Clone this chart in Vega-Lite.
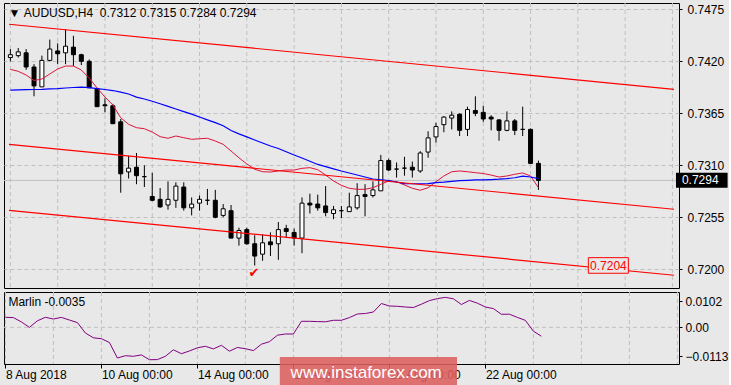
{
  "$schema": "https://vega.github.io/schema/vega-lite/v6.json",
  "background": "#e8e8e8",
  "padding": {"left": 2, "top": 2, "right": 0, "bottom": 0},
  "spacing": 2,
  "config": {
    "view": {"stroke": "#000000", "strokeWidth": 1},
    "font": "Liberation Sans",
    "axis": {"labelFont": "Liberation Sans", "labelFontSize": 12, "labelColor": "#000000", "tickColor": "#000000", "domain": false, "gridColor": "#c0c0c0", "gridDash": [4, 3], "gridOpacity": 1}
  },
  "datasets": {
    "bars": [
      {"i":0,"o":0.7424,"h":0.7433,"l":0.7420,"c":0.7427,"r":0.74115,"b":0.73896,"m":0.00392},
      {"i":1,"o":0.7426,"h":0.7434,"l":0.7424,"c":0.7430,"r":0.74094,"b":0.73899,"m":0.00380},
      {"i":2,"o":0.7429,"h":0.7433,"l":0.7411,"c":0.7414,"r":0.74055,"b":0.73900,"m":0.00212},
      {"i":3,"o":0.7414,"h":0.7417,"l":0.7383,"c":0.7394,"r":0.73997,"b":0.73902,"m":-0.00004},
      {"i":4,"o":0.7393,"h":0.7426,"l":0.7393,"c":0.7421,"r":0.74013,"b":0.73904,"m":0.00255},
      {"i":5,"o":0.7421,"h":0.7443,"l":0.7420,"c":0.7433,"r":0.74066,"b":0.73908,"m":0.00392},
      {"i":6,"o":0.7431,"h":0.7439,"l":0.7417,"c":0.7428,"r":0.74119,"b":0.73912,"m":0.00325},
      {"i":7,"o":0.7429,"h":0.7454,"l":0.7417,"c":0.7436,"r":0.74150,"b":0.73918,"m":0.00388},
      {"i":8,"o":0.7435,"h":0.7447,"l":0.7415,"c":0.7427,"r":0.74150,"b":0.73923,"m":0.00286},
      {"i":9,"o":0.7427,"h":0.7428,"l":0.7416,"c":0.7420,"r":0.74108,"b":0.73927,"m":0.00184},
      {"i":10,"o":0.7420,"h":0.7422,"l":0.7392,"c":0.7392,"r":0.74023,"b":0.73921,"m":-0.00224},
      {"i":11,"o":0.7391,"h":0.7392,"l":0.7372,"c":0.7372,"r":0.73918,"b":0.73912,"m":-0.00412},
      {"i":12,"o":0.7374,"h":0.7381,"l":0.7366,"c":0.7373,"r":0.73822,"b":0.73902,"m":-0.00447},
      {"i":13,"o":0.7373,"h":0.7375,"l":0.7354,"c":0.7354,"r":0.73738,"b":0.73891,"m":-0.00596},
      {"i":14,"o":0.7356,"h":0.7359,"l":0.7281,"c":0.7301,"r":0.73603,"b":0.73875,"m":-0.01204},
      {"i":15,"o":0.7303,"h":0.7320,"l":0.7296,"c":0.7307,"r":0.73534,"b":0.73854,"m":-0.01114},
      {"i":16,"o":0.7308,"h":0.7323,"l":0.7290,"c":0.7299,"r":0.73498,"b":0.73822,"m":-0.01137},
      {"i":17,"o":0.7298,"h":0.7310,"l":0.7287,"c":0.7298,"r":0.73487,"b":0.73801,"m":-0.01082},
      {"i":18,"o":0.7277,"h":0.7302,"l":0.7272,"c":0.7273,"r":0.73452,"b":0.73778,"m":-0.01271},
      {"i":19,"o":0.7274,"h":0.7286,"l":0.7265,"c":0.7266,"r":0.73403,"b":0.73751,"m":-0.01267},
      {"i":20,"o":0.7268,"h":0.7293,"l":0.7263,"c":0.7274,"r":0.73386,"b":0.73723,"m":-0.01137},
      {"i":21,"o":0.7273,"h":0.7292,"l":0.7265,"c":0.7288,"r":0.73410,"b":0.73696,"m":-0.00882},
      {"i":22,"o":0.7287,"h":0.7292,"l":0.7262,"c":0.7265,"r":0.73392,"b":0.73668,"m":-0.01035},
      {"i":23,"o":0.7265,"h":0.7276,"l":0.7257,"c":0.7269,"r":0.73375,"b":0.73641,"m":-0.00929},
      {"i":24,"o":0.7270,"h":0.7278,"l":0.7262,"c":0.7274,"r":0.73381,"b":0.73611,"m":-0.00804},
      {"i":25,"o":0.7273,"h":0.7285,"l":0.7268,"c":0.7273,"r":0.73386,"b":0.73581,"m":-0.00745},
      {"i":26,"o":0.7273,"h":0.7284,"l":0.7254,"c":0.7255,"r":0.73357,"b":0.73552,"m":-0.00847},
      {"i":27,"o":0.7257,"h":0.7269,"l":0.7255,"c":0.7264,"r":0.73322,"b":0.73518,"m":-0.00706},
      {"i":28,"o":0.7262,"h":0.7268,"l":0.7233,"c":0.7233,"r":0.73251,"b":0.73468,"m":-0.00937},
      {"i":29,"o":0.7233,"h":0.7244,"l":0.7225,"c":0.7241,"r":0.73180,"b":0.73433,"m":-0.00792},
      {"i":30,"o":0.7242,"h":0.7244,"l":0.7226,"c":0.7227,"r":0.73114,"b":0.73401,"m":-0.00839},
      {"i":31,"o":0.7227,"h":0.7236,"l":0.7204,"c":0.7214,"r":0.73058,"b":0.73368,"m":-0.00914},
      {"i":32,"o":0.7216,"h":0.7237,"l":0.7209,"c":0.7228,"r":0.73032,"b":0.73336,"m":-0.00663},
      {"i":33,"o":0.7229,"h":0.7239,"l":0.7214,"c":0.7226,"r":0.73029,"b":0.73304,"m":-0.00565},
      {"i":34,"o":0.7227,"h":0.7250,"l":0.7210,"c":0.7242,"r":0.73040,"b":0.73278,"m":-0.00310},
      {"i":35,"o":0.7243,"h":0.7247,"l":0.7233,"c":0.7240,"r":0.73050,"b":0.73243,"m":-0.00263},
      {"i":36,"o":0.7239,"h":0.7243,"l":0.7225,"c":0.7233,"r":0.73050,"b":0.73209,"m":-0.00263},
      {"i":37,"o":0.7233,"h":0.7276,"l":0.7217,"c":0.7270,"r":0.73068,"b":0.73177,"m":0.00235},
      {"i":38,"o":0.7270,"h":0.7280,"l":0.7259,"c":0.7268,"r":0.73075,"b":0.73143,"m":0.00235},
      {"i":39,"o":0.7269,"h":0.7279,"l":0.7262,"c":0.7265,"r":0.73053,"b":0.73109,"m":0.00224},
      {"i":40,"o":0.7267,"h":0.7288,"l":0.7256,"c":0.7260,"r":0.72997,"b":0.73086,"m":0.00216},
      {"i":41,"o":0.7259,"h":0.7267,"l":0.7253,"c":0.7263,"r":0.72934,"b":0.73063,"m":0.00275},
      {"i":42,"o":0.7262,"h":0.7267,"l":0.7254,"c":0.7262,"r":0.72888,"b":0.73040,"m":0.00275},
      {"i":43,"o":0.7261,"h":0.7281,"l":0.7261,"c":0.7266,"r":0.72857,"b":0.73019,"m":0.00380},
      {"i":44,"o":0.7265,"h":0.7291,"l":0.7263,"c":0.7278,"r":0.72846,"b":0.72997,"m":0.00522},
      {"i":45,"o":0.7279,"h":0.7290,"l":0.7256,"c":0.7277,"r":0.72846,"b":0.72976,"m":0.00541},
      {"i":46,"o":0.7278,"h":0.7293,"l":0.7276,"c":0.7284,"r":0.72863,"b":0.72955,"m":0.00600},
      {"i":47,"o":0.7283,"h":0.7321,"l":0.7283,"c":0.7315,"r":0.72899,"b":0.72947,"m":0.00933},
      {"i":48,"o":0.7315,"h":0.7317,"l":0.7304,"c":0.7305,"r":0.72934,"b":0.72939,"m":0.00835},
      {"i":49,"o":0.7306,"h":0.7313,"l":0.7297,"c":0.7306,"r":0.72927,"b":0.72923,"m":0.00824},
      {"i":50,"o":0.7307,"h":0.7319,"l":0.7299,"c":0.7307,"r":0.72892,"b":0.72907,"m":0.00796},
      {"i":51,"o":0.7308,"h":0.7314,"l":0.7297,"c":0.7305,"r":0.72857,"b":0.72905,"m":0.00776},
      {"i":52,"o":0.7304,"h":0.7325,"l":0.7302,"c":0.7323,"r":0.72836,"b":0.72905,"m":0.00906},
      {"i":53,"o":0.7324,"h":0.7346,"l":0.7318,"c":0.7339,"r":0.72863,"b":0.72907,"m":0.01047},
      {"i":54,"o":0.7340,"h":0.7355,"l":0.7334,"c":0.7351,"r":0.72927,"b":0.72917,"m":0.01125},
      {"i":55,"o":0.7353,"h":0.7362,"l":0.7345,"c":0.7361,"r":0.72987,"b":0.72923,"m":0.01173},
      {"i":56,"o":0.7360,"h":0.7367,"l":0.7348,"c":0.7363,"r":0.73032,"b":0.72931,"m":0.01118},
      {"i":57,"o":0.7364,"h":0.7365,"l":0.7341,"c":0.7347,"r":0.73040,"b":0.72937,"m":0.00894},
      {"i":58,"o":0.7348,"h":0.7372,"l":0.7341,"c":0.7369,"r":0.73032,"b":0.72941,"m":0.01055},
      {"i":59,"o":0.7368,"h":0.7383,"l":0.7362,"c":0.7365,"r":0.73022,"b":0.72945,"m":0.00945},
      {"i":60,"o":0.7366,"h":0.7373,"l":0.7356,"c":0.7359,"r":0.73013,"b":0.72945,"m":0.00796},
      {"i":61,"o":0.7361,"h":0.7363,"l":0.7347,"c":0.7359,"r":0.72997,"b":0.72949,"m":0.00733},
      {"i":62,"o":0.7358,"h":0.7359,"l":0.7336,"c":0.7347,"r":0.72976,"b":0.72953,"m":0.00510},
      {"i":63,"o":0.7347,"h":0.7367,"l":0.7346,"c":0.7357,"r":0.72987,"b":0.72959,"m":0.00514},
      {"i":64,"o":0.7357,"h":0.7359,"l":0.7342,"c":0.7347,"r":0.73005,"b":0.72968,"m":0.00388},
      {"i":65,"o":0.7348,"h":0.7372,"l":0.7341,"c":0.7348,"r":0.73019,"b":0.72985,"m":0.00271},
      {"i":66,"o":0.7348,"h":0.7349,"l":0.7312,"c":0.7312,"r":0.72987,"b":0.72976,"m":-0.00153},
      {"i":67,"o":0.7312,"h":0.7315,"l":0.7284,"c":0.7294,"r":0.72863,"b":0.72960,"m":-0.0035}
    ],
    "grid": [{"i":0},{"i":6},{"i":12},{"i":18},{"i":24},{"i":30},{"i":36},{"i":42},{"i":48},{"i":54},{"i":60},{"i":66},{"i":72},{"i":78},{"i":84}],
    "chan": [
      {"k":"a","i":-0.175,"p":0.74592},{"k":"a","i":84.2,"p":0.73904},
      {"k":"b","i":-0.175,"p":0.73322},{"k":"b","i":84.2,"p":0.72635},
      {"k":"c","i":-0.175,"p":0.72624},{"k":"c","i":84.2,"p":0.71937}
    ]
  },
  "vconcat": [
    {
      "width": 675,
      "height": 285,
      "title": {"text": "▼\u00a0AUDUSD,H4\u00a0\u00a00.7312 0.7315 0.7284 0.7294", "anchor": "start", "offset": -17, "dx": 5, "fontSize": 12, "fontWeight": "normal", "font": "Liberation Sans", "color": "#000000"},
      "layer": [
        {
          "data": {"name": "grid"},
          "mark": {"type": "rule", "color": "#c0c0c0", "strokeDash": [4, 3], "strokeWidth": 1},
          "encoding": {
            "x": {"field": "i", "type": "quantitative", "scale": {"domain": [-0.175, 84.2], "nice": false, "zero": false}, "axis": null}
          }
        },
        {
          "data": {"values": [{"p": 0.7294}]},
          "mark": {"type": "rule", "color": "#c0c0c0", "strokeWidth": 1},
          "encoding": {
            "y": {"field": "p", "type": "quantitative", "scale": {"domain": [0.71802, 0.74817], "nice": false, "zero": false},
                  "axis": {"orient": "right", "values": [0.72, 0.7255, 0.731, 0.7365, 0.742, 0.7475], "format": ".4f", "grid": true, "tickSize": 3, "labelPadding": 5, "title": null, "labelBaseline": "middle"}}
          }
        },
        {
          "data": {"name": "bars"},
          "mark": {"type": "rule", "color": "#000000", "strokeWidth": 1},
          "encoding": {
            "x": {"field": "i", "type": "quantitative", "scale": {"domain": [-0.175, 84.2], "nice": false, "zero": false}, "axis": null},
            "y": {"field": "l", "type": "quantitative", "scale": {"domain": [0.71802, 0.74817], "nice": false, "zero": false},
                  "axis": {"orient": "right", "values": [0.72, 0.7255, 0.731, 0.7365, 0.742, 0.7475], "format": ".4f", "grid": true, "tickSize": 3, "labelPadding": 5, "title": null, "labelBaseline": "middle"}},
            "y2": {"field": "h"}
          }
        },
        {
          "data": {"name": "bars"},
          "mark": {"type": "bar", "size": 4, "stroke": "#000000", "strokeWidth": 1},
          "encoding": {
            "x": {"field": "i", "type": "quantitative", "scale": {"domain": [-0.175, 84.2], "nice": false, "zero": false}, "axis": null},
            "y": {"field": "o", "type": "quantitative", "scale": {"domain": [0.71802, 0.74817], "nice": false, "zero": false},
                  "axis": {"orient": "right", "values": [0.72, 0.7255, 0.731, 0.7365, 0.742, 0.7475], "format": ".4f", "grid": true, "tickSize": 3, "labelPadding": 5, "title": null, "labelBaseline": "middle"}},
            "y2": {"field": "c"},
            "fill": {"condition": {"test": "datum.c > datum.o", "value": "#ffffff"}, "value": "#000000"}
          }
        },
        {
          "data": {"name": "bars"},
          "mark": {"type": "line", "color": "#dc143c", "strokeWidth": 1},
          "encoding": {
            "x": {"field": "i", "type": "quantitative", "scale": {"domain": [-0.175, 84.2], "nice": false, "zero": false}, "axis": null},
            "y": {"field": "r", "type": "quantitative", "scale": {"domain": [0.71802, 0.74817], "nice": false, "zero": false},
                  "axis": {"orient": "right", "values": [0.72, 0.7255, 0.731, 0.7365, 0.742, 0.7475], "format": ".4f", "grid": true, "tickSize": 3, "labelPadding": 5, "title": null, "labelBaseline": "middle"}}
          }
        },
        {
          "data": {"name": "bars"},
          "mark": {"type": "line", "color": "#0000ff", "strokeWidth": 1.2},
          "encoding": {
            "x": {"field": "i", "type": "quantitative", "scale": {"domain": [-0.175, 84.2], "nice": false, "zero": false}, "axis": null},
            "y": {"field": "b", "type": "quantitative", "scale": {"domain": [0.71802, 0.74817], "nice": false, "zero": false},
                  "axis": {"orient": "right", "values": [0.72, 0.7255, 0.731, 0.7365, 0.742, 0.7475], "format": ".4f", "grid": true, "tickSize": 3, "labelPadding": 5, "title": null, "labelBaseline": "middle"}}
          }
        },
        {
          "data": {"name": "chan"},
          "mark": {"type": "line", "color": "#ff0000", "strokeWidth": 1.2},
          "encoding": {
            "x": {"field": "i", "type": "quantitative", "scale": {"domain": [-0.175, 84.2], "nice": false, "zero": false}, "axis": null},
            "y": {"field": "p", "type": "quantitative", "scale": {"domain": [0.71802, 0.74817], "nice": false, "zero": false},
                  "axis": {"orient": "right", "values": [0.72, 0.7255, 0.731, 0.7365, 0.742, 0.7475], "format": ".4f", "grid": true, "tickSize": 3, "labelPadding": 5, "title": null, "labelBaseline": "middle"}},
            "detail": {"field": "k"}
          }
        },
        {
          "data": {"values": [{"i": 73.33, "i2": 78.41, "p": 0.72123, "p2": 0.71958}]},
          "mark": {"type": "rect", "fill": "#e8e8e8", "stroke": "#ff0000", "strokeWidth": 1},
          "encoding": {
            "x": {"field": "i", "type": "quantitative", "scale": {"domain": [-0.175, 84.2], "nice": false, "zero": false}, "axis": null},
            "x2": {"field": "i2"},
            "y": {"field": "p", "type": "quantitative", "scale": {"domain": [0.71802, 0.74817], "nice": false, "zero": false},
                  "axis": {"orient": "right", "values": [0.72, 0.7255, 0.731, 0.7365, 0.742, 0.7475], "format": ".4f", "grid": true, "tickSize": 3, "labelPadding": 5, "title": null, "labelBaseline": "middle"}},
            "y2": {"field": "p2"}
          }
        },
        {
          "data": {"values": [{"i": 73.55, "p": 0.7204, "t": "0.7204"}]},
          "mark": {"type": "text", "color": "#ff0000", "fontSize": 12, "font": "Liberation Sans", "align": "left", "baseline": "middle"},
          "encoding": {
            "x": {"field": "i", "type": "quantitative", "scale": {"domain": [-0.175, 84.2], "nice": false, "zero": false}, "axis": null},
            "y": {"field": "p", "type": "quantitative", "scale": {"domain": [0.71802, 0.74817], "nice": false, "zero": false},
                  "axis": {"orient": "right", "values": [0.72, 0.7255, 0.731, 0.7365, 0.742, 0.7475], "format": ".4f", "grid": true, "tickSize": 3, "labelPadding": 5, "title": null, "labelBaseline": "middle"}},
            "text": {"field": "t"}
          }
        },
        {
          "data": {"values": [{"i": 30.9, "p": 0.7196, "t": "✔"}]},
          "mark": {"type": "text", "color": "#ff0000", "fontSize": 13, "font": "DejaVu Sans", "align": "center", "baseline": "middle"},
          "encoding": {
            "x": {"field": "i", "type": "quantitative", "scale": {"domain": [-0.175, 84.2], "nice": false, "zero": false}, "axis": null},
            "y": {"field": "p", "type": "quantitative", "scale": {"domain": [0.71802, 0.74817], "nice": false, "zero": false},
                  "axis": {"orient": "right", "values": [0.72, 0.7255, 0.731, 0.7365, 0.742, 0.7475], "format": ".4f", "grid": true, "tickSize": 3, "labelPadding": 5, "title": null, "labelBaseline": "middle"}},
            "text": {"field": "t"}
          }
        },
        {
          "data": {"values": [{"i": 84.45, "i2": 91, "p": 0.73022, "p2": 0.72863}]},
          "mark": {"type": "rect", "fill": "#000000", "clip": false},
          "encoding": {
            "x": {"field": "i", "type": "quantitative", "scale": {"domain": [-0.175, 84.2], "nice": false, "zero": false}, "axis": null},
            "x2": {"field": "i2"},
            "y": {"field": "p", "type": "quantitative", "scale": {"domain": [0.71802, 0.74817], "nice": false, "zero": false},
                  "axis": {"orient": "right", "values": [0.72, 0.7255, 0.731, 0.7365, 0.742, 0.7475], "format": ".4f", "grid": true, "tickSize": 3, "labelPadding": 5, "title": null, "labelBaseline": "middle"}},
            "y2": {"field": "p2"}
          }
        },
        {
          "data": {"values": [{"i": 85.2, "p": 0.7294, "t": "0.7294"}]},
          "mark": {"type": "text", "color": "#ffffff", "fontSize": 12, "font": "Liberation Sans", "align": "left", "baseline": "middle", "clip": false},
          "encoding": {
            "x": {"field": "i", "type": "quantitative", "scale": {"domain": [-0.175, 84.2], "nice": false, "zero": false}, "axis": null},
            "y": {"field": "p", "type": "quantitative", "scale": {"domain": [0.71802, 0.74817], "nice": false, "zero": false},
                  "axis": {"orient": "right", "values": [0.72, 0.7255, 0.731, 0.7365, 0.742, 0.7475], "format": ".4f", "grid": true, "tickSize": 3, "labelPadding": 5, "title": null, "labelBaseline": "middle"}},
            "text": {"field": "t"}
          }
        }
      ]
    },
    {
      "width": 675,
      "height": 72,
      "title": {"text": "Marlin -0.0035", "anchor": "start", "offset": -17.5, "dx": 5, "fontSize": 12, "fontWeight": "normal", "font": "Liberation Sans", "color": "#000000"},
      "layer": [
        {
          "data": {"name": "grid"},
          "mark": {"type": "rule", "color": "#c0c0c0", "strokeDash": [4, 3], "strokeWidth": 1},
          "encoding": {
            "x": {"field": "i", "type": "quantitative", "scale": {"domain": [-0.175, 84.2], "nice": false, "zero": false},
                  "axis": {"values": [0, 12, 24, 36, 48, 60], "grid": false, "tickSize": 4, "labelPadding": 1, "labelAlign": "left", "labelFlush": false, "labelOverlap": false, "labelBound": false, "title": null,
                           "labelExpr": "datum.value == 0 ? '8 Aug 2018' : datum.value == 12 ? '10 Aug 00:00' : datum.value == 24 ? '14 Aug 00:00' : datum.value == 36 ? '16 Aug 00:00' : datum.value == 48 ? '20 Aug 00:00' : '22 Aug 00:00'"}}
          }
        },
        {
          "data": {"values": [{"m": 0}]},
          "mark": {"type": "rule", "color": "#c0c0c0", "strokeDash": [4, 3], "strokeWidth": 1},
          "encoding": {
            "y": {"field": "m", "type": "quantitative", "scale": {"domain": [-0.014392, 0.013843], "nice": false, "zero": false},
                  "axis": {"orient": "right", "values": [0.0102, 0, -0.0113], "grid": false, "tickSize": 3, "labelPadding": 3, "title": null, "labelBaseline": "middle",
                           "labelExpr": "datum.value == 0 ? '0.00' : format(datum.value, '.4f')"}}
          }
        },
        {
          "data": {"name": "bars"},
          "mark": {"type": "line", "color": "#800080", "strokeWidth": 1},
          "encoding": {
            "x": {"field": "i", "type": "quantitative", "scale": {"domain": [-0.175, 84.2], "nice": false, "zero": false},
                  "axis": {"values": [0, 12, 24, 36, 48, 60], "grid": false, "tickSize": 4, "labelPadding": 1, "labelAlign": "left", "labelFlush": false, "labelOverlap": false, "labelBound": false, "title": null,
                           "labelExpr": "datum.value == 0 ? '8 Aug 2018' : datum.value == 12 ? '10 Aug 00:00' : datum.value == 24 ? '14 Aug 00:00' : datum.value == 36 ? '16 Aug 00:00' : datum.value == 48 ? '20 Aug 00:00' : '22 Aug 00:00'"}},
            "y": {"field": "m", "type": "quantitative", "scale": {"domain": [-0.014392, 0.013843], "nice": false, "zero": false},
                  "axis": {"orient": "right", "values": [0.0102, 0, -0.0113], "grid": false, "tickSize": 3, "labelPadding": 3, "title": null, "labelBaseline": "middle",
                           "labelExpr": "datum.value == 0 ? '0.00' : format(datum.value, '.4f')"}}
          }
        },
        {
          "data": {"values": [{"i": 34.3, "i2": 56.45, "m": -0.01165, "m2": -0.0238}]},
          "mark": {"type": "rect", "fill": "#dd5e5e", "opacity": 0.88, "clip": false},
          "encoding": {
            "x": {"field": "i", "type": "quantitative", "scale": {"domain": [-0.175, 84.2], "nice": false, "zero": false},
                  "axis": {"values": [0, 12, 24, 36, 48, 60], "grid": false, "tickSize": 4, "labelPadding": 1, "labelAlign": "left", "labelFlush": false, "labelOverlap": false, "labelBound": false, "title": null,
                           "labelExpr": "datum.value == 0 ? '8 Aug 2018' : datum.value == 12 ? '10 Aug 00:00' : datum.value == 24 ? '14 Aug 00:00' : datum.value == 36 ? '16 Aug 00:00' : datum.value == 48 ? '20 Aug 00:00' : '22 Aug 00:00'"}},
            "x2": {"field": "i2"},
            "y": {"field": "m", "type": "quantitative", "scale": {"domain": [-0.014392, 0.013843], "nice": false, "zero": false},
                  "axis": {"orient": "right", "values": [0.0102, 0, -0.0113], "grid": false, "tickSize": 3, "labelPadding": 3, "title": null, "labelBaseline": "middle",
                           "labelExpr": "datum.value == 0 ? '0.00' : format(datum.value, '.4f')"}},
            "y2": {"field": "m2"}
          }
        },
        {
          "data": {"values": [{"i": 45.1, "m": -0.0179, "t": "www.instaforex.com"}]},
          "mark": {"type": "text", "color": "#ffffff", "fontSize": 17, "font": "Liberation Sans", "align": "center", "baseline": "middle", "clip": false},
          "encoding": {
            "x": {"field": "i", "type": "quantitative", "scale": {"domain": [-0.175, 84.2], "nice": false, "zero": false},
                  "axis": {"values": [0, 12, 24, 36, 48, 60], "grid": false, "tickSize": 4, "labelPadding": 1, "labelAlign": "left", "labelFlush": false, "labelOverlap": false, "labelBound": false, "title": null,
                           "labelExpr": "datum.value == 0 ? '8 Aug 2018' : datum.value == 12 ? '10 Aug 00:00' : datum.value == 24 ? '14 Aug 00:00' : datum.value == 36 ? '16 Aug 00:00' : datum.value == 48 ? '20 Aug 00:00' : '22 Aug 00:00'"}},
            "y": {"field": "m", "type": "quantitative", "scale": {"domain": [-0.014392, 0.013843], "nice": false, "zero": false},
                  "axis": {"orient": "right", "values": [0.0102, 0, -0.0113], "grid": false, "tickSize": 3, "labelPadding": 3, "title": null, "labelBaseline": "middle",
                           "labelExpr": "datum.value == 0 ? '0.00' : format(datum.value, '.4f')"}},
            "text": {"field": "t"}
          }
        }
      ]
    }
  ]
}
